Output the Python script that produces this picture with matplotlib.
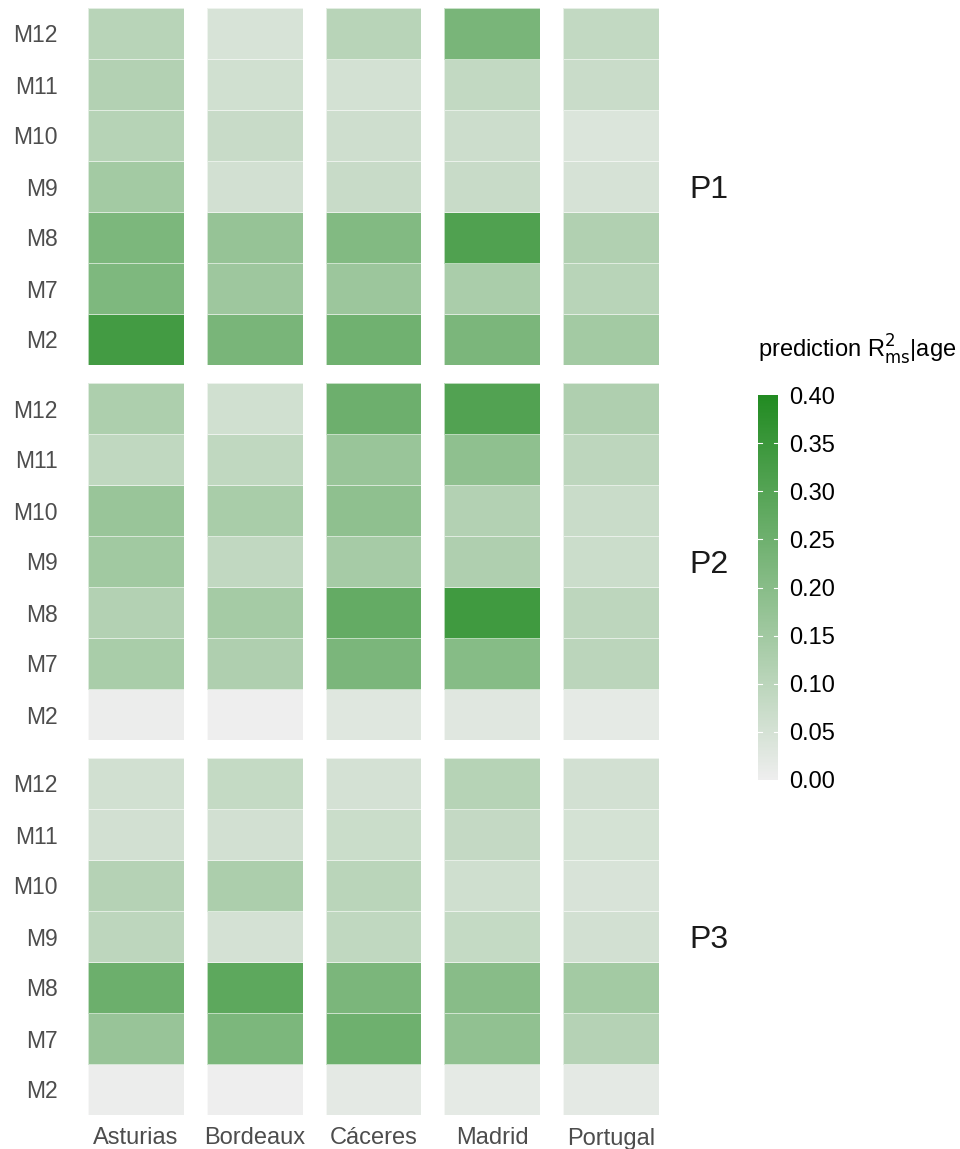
import numpy as np
import matplotlib
matplotlib.use("Agg")
import matplotlib.pyplot as plt
from matplotlib.colors import LinearSegmentedColormap, Normalize
from matplotlib.cm import ScalarMappable

plt.rcParams['font.family'] = ['Liberation Sans', 'DejaVu Sans']

sites = ['Asturias', 'Bordeaux', 'Cáceres', 'Madrid', 'Portugal']
models = ['M2', 'M7', 'M8', 'M9', 'M10', 'M11', 'M12']  # bottom to top
panels = ['P1', 'P2', 'P3']

# values per site, in the order of models (M2 ... M12)
p1_values = [
    [0.335, 0.220, 0.223, 0.147, 0.110, 0.117, 0.107],  # Asturias
    [0.229, 0.157, 0.173, 0.056, 0.076, 0.058, 0.046],  # Bordeaux
    [0.247, 0.161, 0.211, 0.076, 0.064, 0.054, 0.107],  # Cáceres
    [0.225, 0.133, 0.310, 0.076, 0.068, 0.086, 0.229],  # Madrid
    [0.147, 0.107, 0.119, 0.048, 0.038, 0.072, 0.086],  # Portugal
]
p2_values = [
    [0.005, 0.135, 0.116, 0.151, 0.167, 0.090, 0.127],
    [0.000, 0.124, 0.143, 0.088, 0.135, 0.090, 0.059],
    [0.031, 0.225, 0.270, 0.141, 0.186, 0.167, 0.253],
    [0.027, 0.204, 0.340, 0.124, 0.116, 0.186, 0.306],
    [0.018, 0.100, 0.096, 0.069, 0.073, 0.096, 0.124],
]
p3_values = [
    [0.005, 0.169, 0.255, 0.096, 0.112, 0.055, 0.057],
    [0.000, 0.222, 0.284, 0.053, 0.129, 0.055, 0.082],
    [0.020, 0.251, 0.225, 0.090, 0.102, 0.071, 0.053],
    [0.018, 0.182, 0.200, 0.082, 0.061, 0.084, 0.110],
    [0.020, 0.112, 0.147, 0.055, 0.045, 0.051, 0.055],
]
all_values = [p1_values, p2_values, p3_values]

vmin, vmax = 0.0, 0.40
cmap = LinearSegmentedColormap.from_list('grn', ['#EEEEEE', '#228B22'])
norm = Normalize(vmin, vmax)

fig = plt.figure(figsize=(9.6, 11.49), dpi=100)
gs = fig.add_gridspec(3, 5, left=88/960, right=659/960, top=1-8/1149,
                      bottom=1-1115/1149, wspace=23/96, hspace=18/357)

for r, vals in enumerate(all_values):
    for c, site in enumerate(sites):
        ax = fig.add_subplot(gs[r, c])
        z = np.array(vals[c]).reshape(-1, 1)
        ax.pcolormesh(np.arange(2) - 0.5, np.arange(len(models) + 1) - 0.5, z,
                      cmap=cmap, norm=norm,
                      edgecolors=(1, 1, 1, 0.6), linewidth=0.7)
        ax.set_xlim(-0.5, 0.5)
        ax.set_ylim(-0.5, len(models) - 0.5)
        for s in ax.spines.values():
            s.set_visible(False)
        ax.tick_params(axis='y', length=0, pad=22, colors='#4D4D4D', labelsize=16.5)
        ax.tick_params(axis='x', length=0, pad=9, colors='#4D4D4D', labelsize=17)
        ax.set_yticks(range(len(models)))
        if c == 0:
            ax.set_yticklabels(models)
        else:
            ax.set_yticklabels([])
        if r == 2:
            ax.set_xticks([0])
            ax.set_xticklabels([site])
        else:
            ax.set_xticks([])
        if c == 4:
            ax.text(1.32, 0.5, panels[r], transform=ax.transAxes,
                    fontsize=23, color='#1A1A1A', va='center_baseline', ha='left')

# colour bar
cax = fig.add_axes([758/960, 1-780/1149, 20/960, 385/1149])
cb = fig.colorbar(ScalarMappable(norm=norm, cmap=cmap), cax=cax,
                  ticks=np.arange(0, 0.41, 0.05))
cb.outline.set_visible(False)
cb.ax.set_yticklabels([f'{t:.2f}' for t in np.arange(0, 0.41, 0.05)])
cb.ax.tick_params(length=0, labelsize=17, colors='black', pad=8)
for t in np.arange(0.05, 0.40, 0.05):
    cax.plot([0, 0.2], [t, t], color='white', lw=0.8)
    cax.plot([0.8, 1], [t, t], color='white', lw=0.8)
fig.text(758/960, 1-350/1149, r'prediction R$_{\mathrm{ms}}^{2}$|age',
         fontsize=17, va='center', ha='left')

fig.savefig('out.png', dpi=100, facecolor='white')
